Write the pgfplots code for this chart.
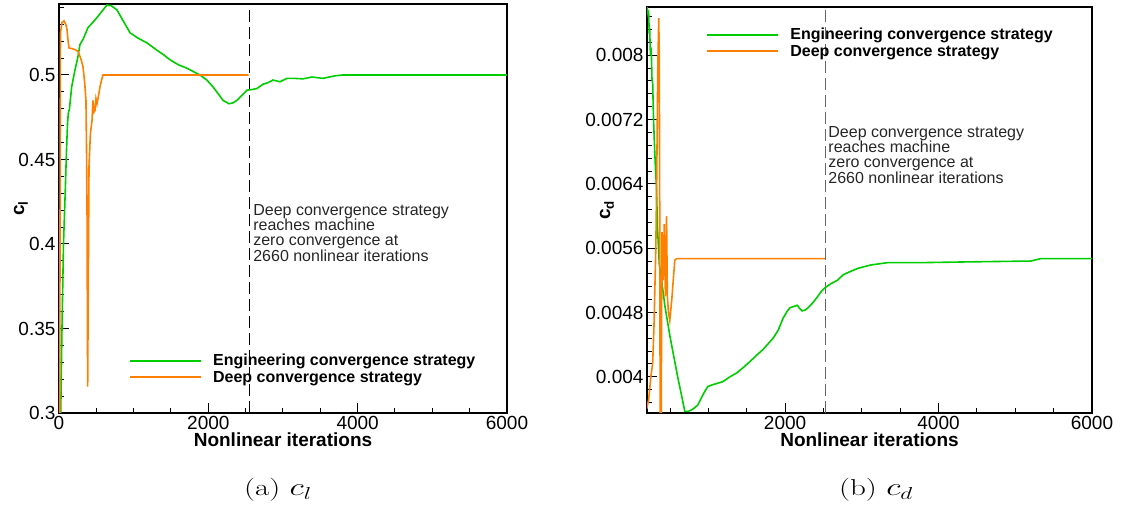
\documentclass[border=0pt]{standalone}
\usepackage{fontspec}
\newfontfamily\arial{Liberation Sans}
\usepackage{pgfplots}
\pgfplotsset{compat=1.18}
\definecolor{eng}{RGB}{0,205,0}
\definecolor{deep}{RGB}{255,127,0}
\pgfplotsset{
  mystyle/.style={
    scale only axis,
    axis line style={line width=1.4pt},
    tick align=inside,
    xtick pos=bottom, ytick pos=left,
    major tick length=10pt, minor tick length=5pt,
    tick style={line width=1pt, black},
    ticklabel style={font=\arial\fontsize{19}{22}\selectfont},
    label style={font=\arial\bfseries\fontsize{19}{22}\selectfont},
    xlabel style={at={(axis description cs:0.5,0)}, anchor=north, inner sep=0pt, yshift=-20pt},
    legend style={draw=none, fill=none, font=\arial\bfseries\fontsize{16}{18}\selectfont, inner sep=0pt, row sep=2pt, column sep=10pt, nodes={inner sep=1pt}, anchor=north west},
    legend cell align=left,
    legend image code/.code={\draw[#1, line width=2pt] (0pt,0pt) -- (71pt,0pt);},
    legend image post style={line width=2pt},
    every axis plot/.append style={line width=1.6pt},
  }
}
\begin{document}
\begin{tikzpicture}[x=1pt,y=1pt]
\path[use as bounding box] (0,0) rectangle (1122,514);
% ---------------- left: c_l ----------------
\begin{axis}[mystyle, at={(59pt,101pt)}, anchor=south west, width=448pt, height=409pt,
  xmin=0, xmax=6000, ymin=0.3, ymax=0.542,
  xtick={0,2000,4000,6000}, xticklabels={0,2000,4000,6000}, minor x tick num=3,
  ytick={0.3,0.35,0.4,0.45,0.5}, yticklabels={0.3,0.35,0.4,0.45,0.5},
  minor ytick={0.31,0.32,0.33,0.34,0.36,0.37,0.38,0.39,0.41,0.42,0.43,0.44,0.46,0.47,0.48,0.49,0.51,0.52,0.53,0.54},
  xlabel={Nonlinear iterations}, ylabel={c\textsubscript{l}},
  ylabel style={at={(axis description cs:-0.085,0.5)}, anchor=center},
  legend style={at={(axis description cs:0.156,0.147)}},
]
\addplot[black, line width=0.9pt, dash pattern=on 12pt off 5pt, forget plot] coordinates {(2545,0.3) (2545,0.542)};
\addplot[eng, line width=1.6pt] coordinates {
(20,0.29) (40,0.35) (60,0.40) (80,0.426) (100,0.455) (115,0.472) (125,0.4775) (140,0.480)
(170,0.493) (214,0.503) (250,0.510) (281,0.518) (321,0.521) (388,0.528) (450,0.531) (509,0.534)
(580,0.538) (643,0.5414) (700,0.541) (776,0.5385) (860,0.532) (951,0.525) (1050,0.522) (1178,0.519)
(1300,0.515) (1400,0.512) (1486,0.509) (1600,0.506) (1714,0.504) (1800,0.502) (1888,0.500) (1980,0.497)
(2062,0.493) (2130,0.489) (2196,0.485) (2276,0.483) (2330,0.4835) (2383,0.485) (2450,0.488) (2517,0.491)
(2600,0.4915) (2651,0.492) (2731,0.4945) (2800,0.4955) (2865,0.497) (2959,0.496) (3053,0.498) (3150,0.498)
(3267,0.4977) (3388,0.4988) (3535,0.498) (3696,0.4995) (3800,0.5) (6000,0.5)};
\addlegendentry{Engineering convergence strategy}
\addplot[deep, line width=1.6pt] coordinates {
(10,0.29) (15,0.45) (20,0.525) (40,0.531) (67,0.532) (90,0.530) (107,0.527) (120,0.521) (134,0.516)
(180,0.5155) (214,0.515) (254,0.514) (290,0.510) (321,0.505) (345,0.495) (361,0.485) (370,0.45)
(375,0.426) (380,0.36) (384,0.3156) (390,0.36) (402,0.446) (420,0.465) (442,0.473) (455,0.485)
(468,0.478) (482,0.479) (495,0.486) (509,0.483) (530,0.488) (549,0.493) (570,0.497) (589,0.500) (2540,0.500)};
\addlegendentry{Deep convergence strategy}
\node[anchor=north west, align=left, inner sep=0pt, font=\arial\fontsize{16}{15.3}\selectfont, text=black!85]
  at (axis cs:2600,0.4237) {Deep convergence strategy\\reaches machine\\zero convergence at\\2660 nonlinear iterations};
\end{axis}
% ---------------- right: c_d ----------------
\begin{axis}[mystyle, at={(647pt,101pt)}, anchor=south west, width=445pt, height=406pt,
  xmin=200, xmax=6000, ymin=0.00355, ymax=0.0086,
  xtick={2000,4000,6000}, xticklabels={2000,4000,6000},
  minor xtick={500,1000,1500,2500,3000,3500,4500,5000,5500},
  ytick={0.004,0.0048,0.0056,0.0064,0.0072,0.008}, yticklabels={0.004,0.0048,0.0056,0.0064,0.0072,0.008},
  minor ytick={0.00368,0.00384,0.00416,0.00432,0.00448,0.00464,0.00496,0.00512,0.00528,0.00544,0.00576,0.00592,0.00608,0.00624,0.00656,0.00672,0.00688,0.00704,0.00736,0.00752,0.00768,0.00784,0.00816,0.00832,0.00848},
  xlabel={Nonlinear iterations}, ylabel={c\textsubscript{d}},
  ylabel style={at={(axis description cs:-0.09,0.5)}, anchor=center},
  legend style={at={(axis description cs:0.133,0.951)}},
]
\addplot[black!60, line width=0.9pt, dash pattern=on 12pt off 5pt, forget plot] coordinates {(2523,0.00355) (2523,0.0086)};
\addplot[eng, line width=1.6pt] coordinates {
(200,0.0086) (215,0.0085) (222,0.00852) (228,0.0083) (235,0.00831) (245,0.0080) (250,0.0081) (257,0.00802)
(265,0.0077) (274,0.00765) (285,0.0072) (300,0.00682) (310,0.0066) (323,0.00636) (330,0.0061) (336,0.00586)
(345,0.0057) (360,0.0054) (390,0.0052) (418,0.0050) (430,0.0049) (500,0.0045) (600,0.0040) (693,0.00357)
(740,0.00357) (800,0.0036) (863,0.00365) (930,0.00378) (993,0.00388) (1050,0.0039) (1189,0.00394) (1280,0.0040)
(1372,0.00405) (1460,0.00412) (1542,0.00419) (1630,0.00427) (1712,0.00434) (1843,0.00448) (1910,0.00458) (1974,0.00473)
(2030,0.00482) (2065,0.00486) (2157,0.00489) (2190,0.00485) (2222,0.00482) (2260,0.00483) (2300,0.00486) (2360,0.00492)
(2418,0.00499) (2470,0.00506) (2523,0.00511) (2600,0.00516) (2680,0.0052) (2758,0.00527) (2850,0.00531) (2950,0.00535)
(3111,0.00539) (3333,0.00542) (3764,0.00542) (4418,0.00543) (5202,0.00544) (5333,0.00547) (6000,0.00547)};
\addlegendentry{Engineering convergence strategy}
\addplot[deep, line width=1.6pt] coordinates {
(196,0.0036) (222,0.00372) (250,0.0040) (274,0.00417) (290,0.0046) (305,0.0052) (315,0.0056) (327,0.0065)
(340,0.0078) (353,0.00846) (360,0.0080) (366,0.0060) (372,0.0034) (385,0.0034) (395,0.0058) (410,0.0052)
(425,0.0059) (440,0.0050) (455,0.0060) (465,0.0050) (480,0.0048) (497,0.0047) (523,0.00496) (550,0.0053)
(562,0.00545) (588,0.00547) (2523,0.00547)};
\addlegendentry{Deep convergence strategy}
\node[anchor=north west, align=left, inner sep=0pt, font=\arial\fontsize{16}{15.3}\selectfont, text=black!85]
  at (axis cs:2562,0.00712) {Deep convergence strategy\\reaches machine\\zero convergence at\\2660 nonlinear iterations};
\end{axis}
% captions
\node[font=\fontsize{23}{26}\selectfont] at (278,24) {\scalebox{1.35}[1]{(a) $c_l$}};
\node[font=\fontsize{23}{26}\selectfont] at (876,24) {\scalebox{1.35}[1]{(b) $c_d$}};
\end{tikzpicture}
\end{document}
